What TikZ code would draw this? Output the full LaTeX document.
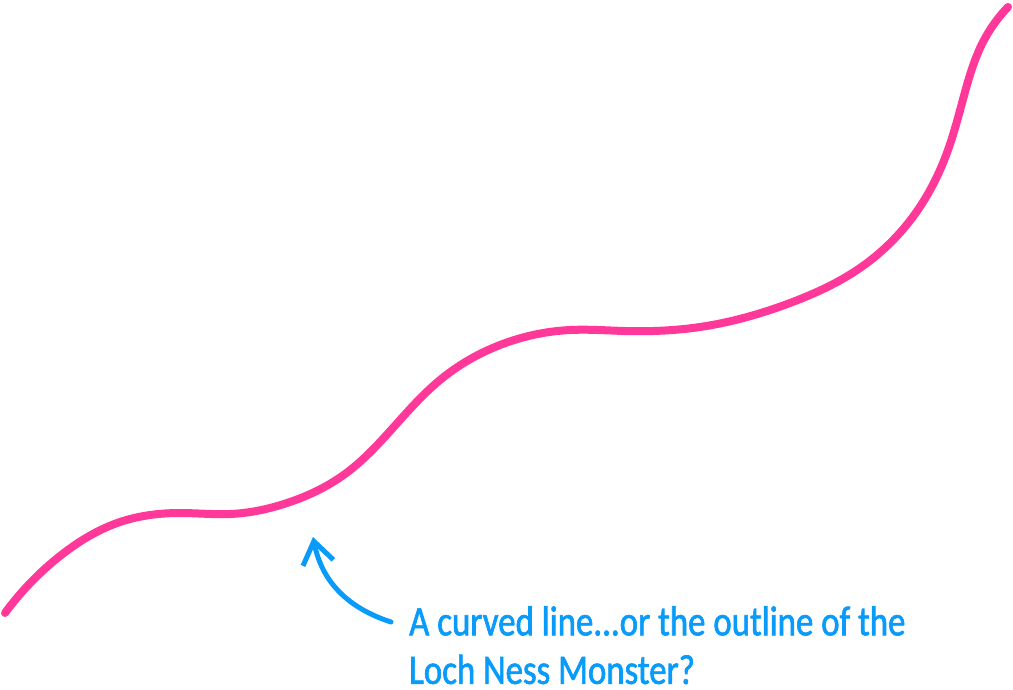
\documentclass[tikz,border=0pt]{standalone}
\usepackage{fontspec}
\setmainfont{Carlito}[FakeStretch=0.83,FakeBold=1.5]
\usepackage{xcolor}
\usetikzlibrary{calc, positioning, hobby, arrows.meta}
\definecolor{nessie}{RGB}{255,56,153}
\definecolor{note}{RGB}{8,155,250}

\begin{document}
\begin{tikzpicture}[x=1pt,y=-1pt,
                    body line/.style={draw=nessie,line width=8pt,line cap=round},
                    note arrow/.style={draw=note,line width=5pt,line cap=round,
                      -{Straight Barb[length=22pt,width=31pt,line width=5pt]}},
                    note text/.style={text=note,font=\fontsize{42}{48.5}\selectfont,align=left,inner sep=0pt}]

  \useasboundingbox (0,0) rectangle (1013,689);

  % the monster
  \draw[body line, use Hobby shortcut] (5,613) .. (60,556) .. (120,522) .. (180,513)
     .. (230,514) .. (290,502) .. (345,474) .. (400,420) .. (440,380) .. (500,345)
     .. (570,330) .. (625,331) .. (700,327) .. (790,303) .. (860,268) .. (915,214)
     .. (948,150) .. (965,92) .. (983,42) .. (1008,7);

  \coordinate (hump) at (313,537);
  \node[note text, anchor=north west] (caption) at (409,606) {A curved line...or the outline of the\\Loch Ness Monster?};
  \coordinate (tail) at (391,622);

  \draw[note arrow] (tail) .. controls (348,608) and (322,582) .. (hump);

\end{tikzpicture}
\end{document}
